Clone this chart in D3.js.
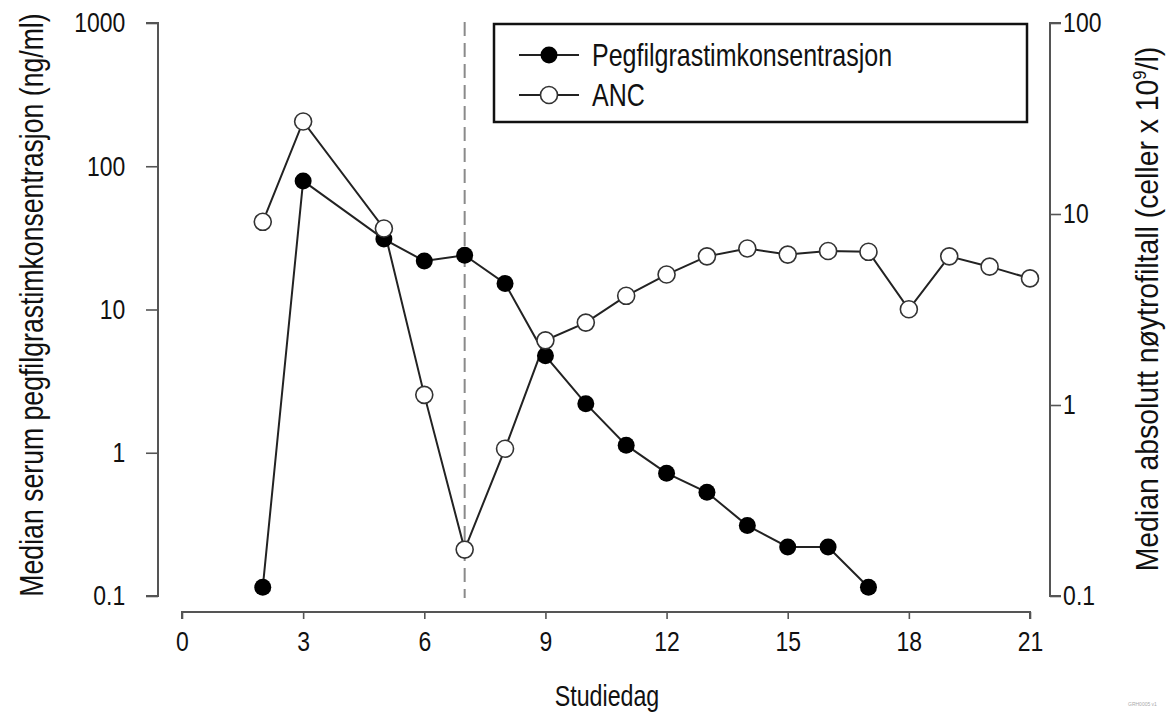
<!DOCTYPE html>
<html>
<head>
<meta charset="utf-8">
<script src="https://cdn.jsdelivr.net/npm/d3@7"></script>
<style>
  body { margin: 0; background: #fff; }
  text { font-family: "Liberation Sans", Arial, sans-serif; fill: #111; }
</style>
</head>
<body>
<div id="chart"></div>
<script>
// study day for each measurement
var days = [2, 3, 5, 6, 7, 8, 9, 10, 11, 12, 13, 14, 15, 16, 17];
var pegValues = [0.115, 79, 31, 21.8, 23.9, 15.2, 4.75, 2.2, 1.13, 0.72, 0.53, 0.31, 0.22, 0.22, 0.115];
var ancDays = [2, 3, 5, 6, 7, 8, 9, 10, 11, 12, 13, 14, 15, 16, 17, 18, 19, 20, 21];
var ancValues = [9.1, 30.5, 8.4, 1.13, 0.175, 0.59, 2.18, 2.7, 3.73, 4.82, 6.0, 6.6, 6.13, 6.4, 6.34, 3.17, 6.0, 5.3, 4.6];
var xTicks = [0, 3, 6, 9, 12, 15, 18, 21];
var leftTicks = [0.1, 1, 10, 100, 1000];
var rightTicks = [0.1, 1, 10, 100];
var markerDay = 7;
var legendLabels = ["Pegfilgrastimkonsentrasjon", "ANC"];

// no narrow font installed, so squeeze text horizontally
var narrow = 0.82;

function drawChart() {
  var width = 1171, height = 722;
  var svg = d3.select("#chart").append("svg")
    .attr("width", width)
    .attr("height", height);

  var x = d3.scaleLinear().domain([0, 21]).range([182, 1030]);
  var yLeft = d3.scaleLog().domain([0.1, 1000]).range([596, 23]);
  var yRight = d3.scaleLog().domain([0.1, 100]).range([596, 23]);
  var axisColor = "#555";

  // minor ticks for log axes
  function minorTicks(scale) {
    var res = [];
    var dom = scale.domain();
    for (var e = Math.log10(dom[0]); e < Math.log10(dom[1]) - 0.01; e++) {
      for (var m = 2; m <= 9; m++) {
        res.push(m * Math.pow(10, Math.round(e)));
      }
    }
    return res;
  }

  function fmt(d) {
    return d < 1 ? d3.format(".1f")(d) : d3.format("d")(d);
  }

  // left axis
  var gl = svg.append("g").attr("transform", "translate(158,0)");
  gl.call(d3.axisLeft(yLeft).tickValues(minorTicks(yLeft)).tickSize(7).tickFormat(""));
  gl.call(d3.axisLeft(yLeft).tickValues(leftTicks).tickSize(12).tickFormat(fmt).tickPadding(28));

  // right axis
  var gr = svg.append("g").attr("transform", "translate(1050,0)");
  gr.call(d3.axisRight(yRight).tickValues(minorTicks(yRight)).tickSize(7).tickFormat(""));
  gr.call(d3.axisRight(yRight).tickValues(rightTicks).tickSize(11).tickFormat(fmt).tickPadding(5));

  // bottom axis
  var gx = svg.append("g").attr("transform", "translate(0,612)");
  gx.call(d3.axisBottom(x).tickValues(xTicks).tickSize(7).tickPadding(12).tickFormat(d3.format("d")));

  [gl, gr, gx].forEach(function (g) {
    g.selectAll(".domain").attr("stroke", axisColor).attr("stroke-width", 2);
    g.selectAll(".tick line").attr("stroke", axisColor).attr("stroke-width", 1.6);
    g.selectAll(".tick text").attr("font-size", 28).attr("fill", "#111")
      .attr("transform", "scale(" + narrow + ",1)")
      .style("font-family", "'Liberation Sans', Arial, sans-serif");
  });
  gl.selectAll(".domain").attr("d", "M-12," + yLeft(1000) + "H0V" + yLeft(0.1) + "H-12");
  gr.selectAll(".domain").attr("d", "M11," + yRight(100) + "H0V" + yRight(0.1) + "H11");
  gx.selectAll(".domain").attr("d", "M" + x(0) + ",7V0H" + x(21) + "V7");

  // dashed reference line
  svg.append("line")
    .attr("x1", x(markerDay)).attr("x2", x(markerDay))
    .attr("y1", 22).attr("y2", 598)
    .attr("stroke", "#8a8a8a")
    .attr("stroke-width", 2)
    .attr("stroke-dasharray", "14,7");

  var pegData = days.map(function (d, i) { return { day: d, value: pegValues[i] }; });
  var ancData = ancDays.map(function (d, i) { return { day: d, value: ancValues[i] }; });

  var lineLeft = d3.line().x(function (d) { return x(d.day); }).y(function (d) { return yLeft(d.value); });
  var lineRight = d3.line().x(function (d) { return x(d.day); }).y(function (d) { return yRight(d.value); });

  svg.append("path").datum(ancData)
    .attr("d", lineRight).attr("fill", "none").attr("stroke", "#222").attr("stroke-width", 2);
  svg.append("path").datum(pegData)
    .attr("d", lineLeft).attr("fill", "none").attr("stroke", "#222").attr("stroke-width", 2);

  svg.append("g").selectAll("circle").data(pegData).enter().append("circle")
    .attr("cx", function (d) { return x(d.day); })
    .attr("cy", function (d) { return yLeft(d.value); })
    .attr("r", 8.5)
    .attr("fill", "#000");

  svg.append("g").selectAll("circle").data(ancData).enter().append("circle")
    .attr("cx", function (d) { return x(d.day); })
    .attr("cy", function (d) { return yRight(d.value); })
    .attr("r", 8.5)
    .attr("fill", "#fff")
    .attr("stroke", "#333")
    .attr("stroke-width", 1.6);

  // legend
  var lg = svg.append("g").attr("transform", "translate(494,24)");
  lg.append("rect").attr("width", 533).attr("height", 98)
    .attr("fill", "#fff").attr("stroke", "#111").attr("stroke-width", 2.5);
  legendLabels.forEach(function (label, i) {
    var yy = 31 + i * 40;
    lg.append("line").attr("x1", 25).attr("x2", 85).attr("y1", yy).attr("y2", yy)
      .attr("stroke", "#222").attr("stroke-width", 2);
    lg.append("circle").attr("cx", 55).attr("cy", yy).attr("r", 8.5)
      .attr("fill", i === 0 ? "#000" : "#fff")
      .attr("stroke", i === 0 ? "none" : "#333").attr("stroke-width", 1.6);
    lg.append("text")
      .attr("transform", "translate(98," + yy + ") scale(" + narrow + ",1)")
      .attr("dy", "0.36em")
      .attr("font-size", 30.5).text(label);
  });

  // axis titles
  svg.append("text")
    .attr("transform", "translate(43,305) rotate(-90) scale(" + narrow + ",1)")
    .attr("text-anchor", "middle").attr("font-size", 32.5)
    .text("Median serum pegfilgrastimkonsentrasjon (ng/ml)");

  var rt = svg.append("text")
    .attr("transform", "translate(1158,309) rotate(-90) scale(0.93,1)")
    .attr("text-anchor", "middle").attr("font-size", 30.5);
  rt.append("tspan").text("Median absolutt nøytrofiltall (celler x 10");
  rt.append("tspan").attr("font-size", 18).attr("dy", -12).text("9");
  rt.append("tspan").attr("dy", 12).text("/l)");

  svg.append("text")
    .attr("transform", "translate(607,706) scale(0.8,1)")
    .attr("text-anchor", "middle").attr("font-size", 29)
    .text("Studiedag");

  svg.append("text")
    .attr("x", 1128).attr("y", 706)
    .attr("font-size", 5)
    .style("fill", "#aaa")
    .text("GRH0005 v1");
}

drawChart();
</script>
</body>
</html>
